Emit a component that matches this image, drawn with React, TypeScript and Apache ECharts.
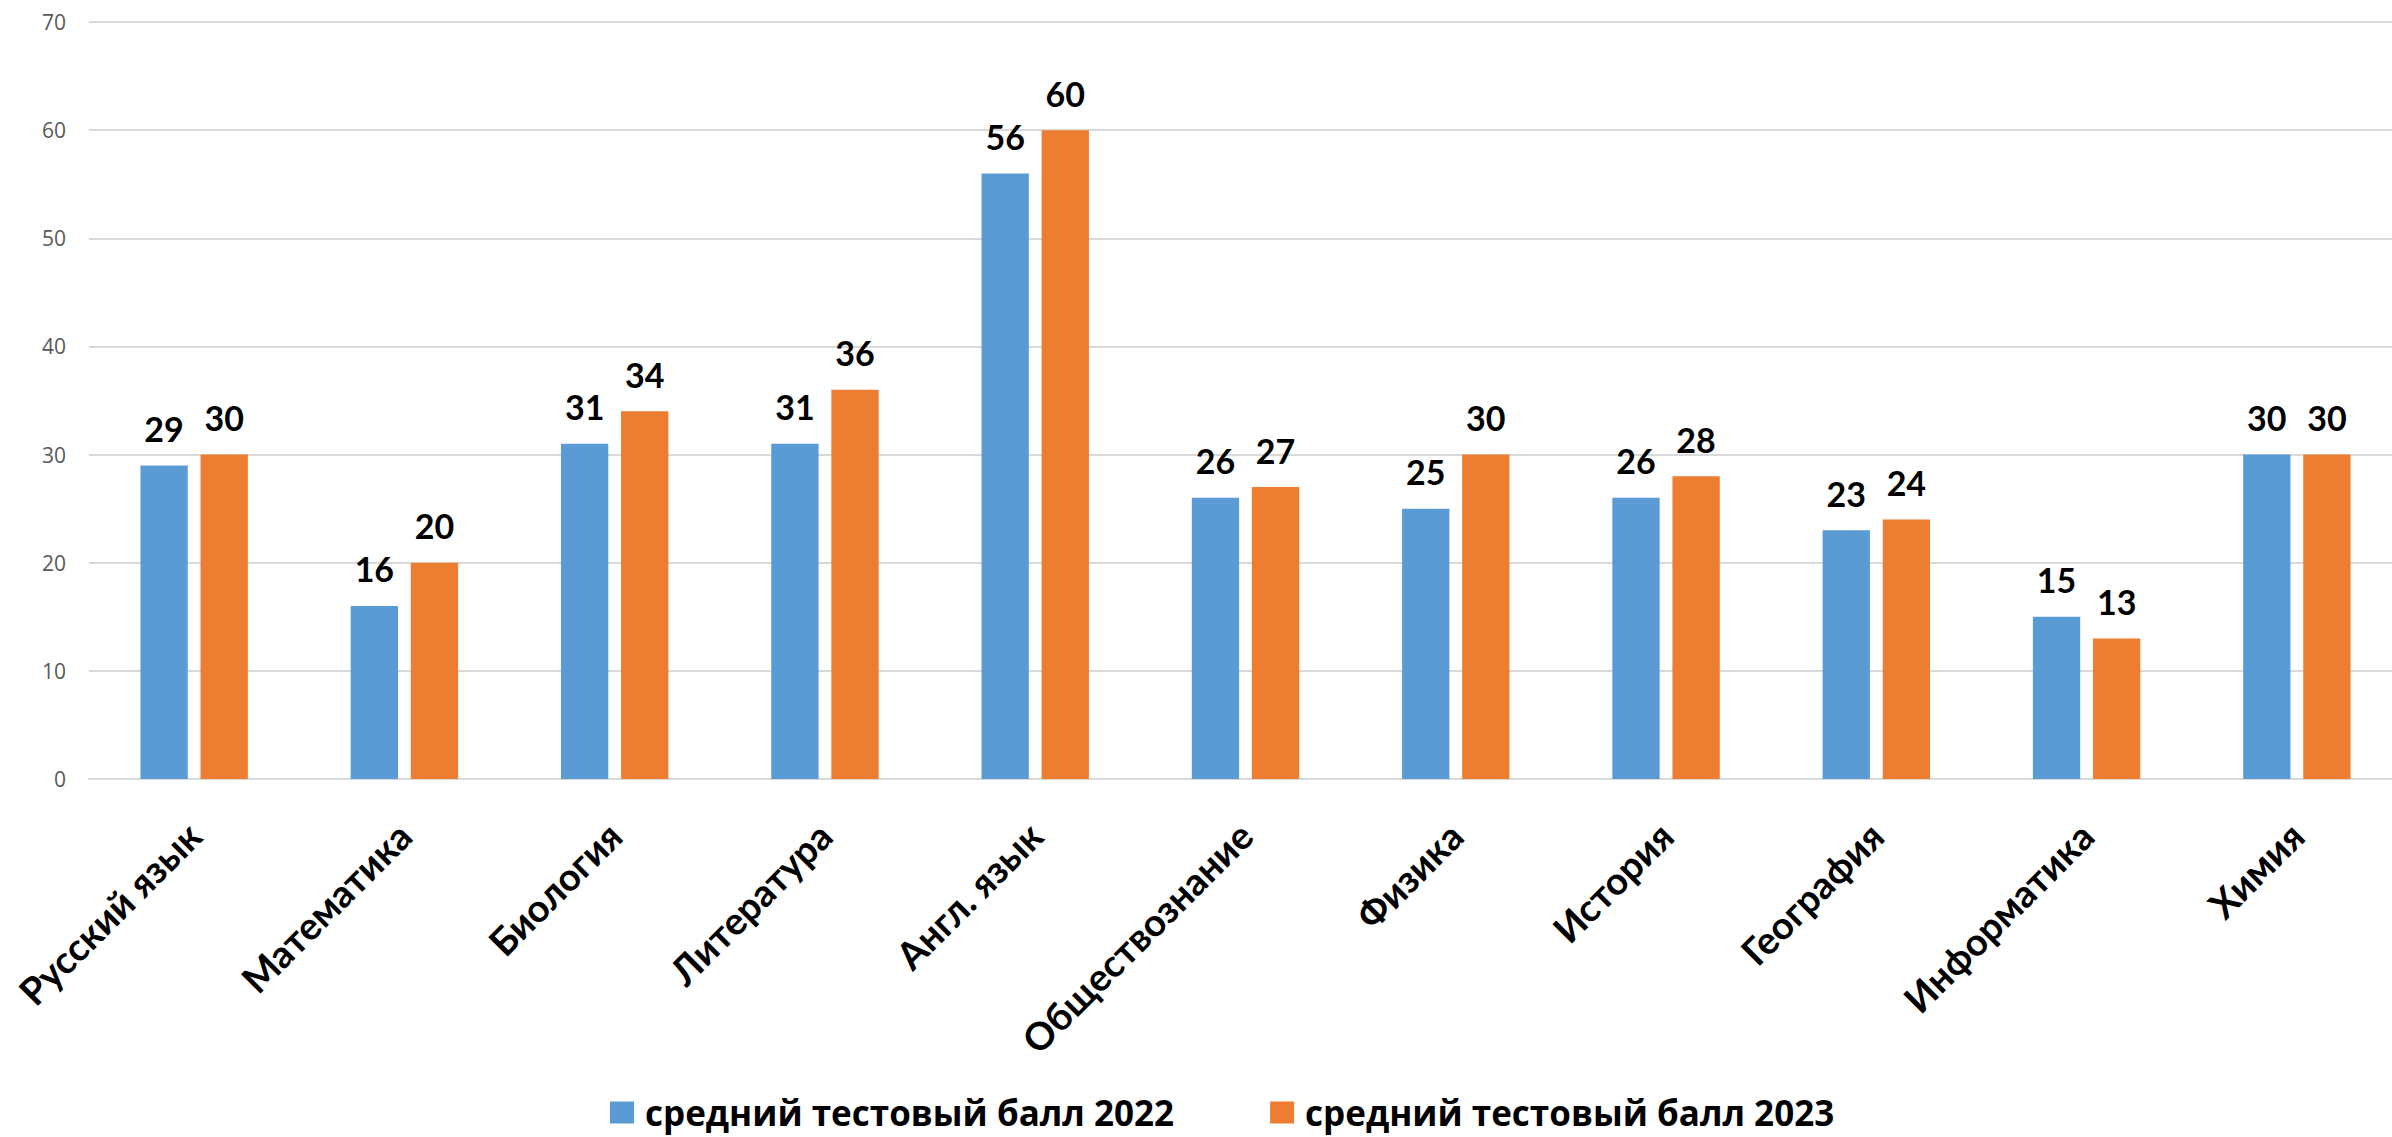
import React, { useEffect, useRef } from "react";
import * as echarts from "echarts";

const categories = [
  "Русский язык",
  "Математика",
  "Биология",
  "Литература",
  "Англ. язык",
  "Обществознание",
  "Физика",
  "История",
  "География",
  "Информатика",
  "Химия",
];
const scores2022 = [29, 16, 31, 31, 56, 26, 25, 26, 23, 15, 30];
const scores2023 = [30, 20, 34, 36, 60, 27, 30, 28, 24, 13, 30];
const seriesNames = ["средний тестовый балл 2022", "средний тестовый балл 2023"];
const yTicks = { min: 0, max: 70, interval: 10 };

const FONT = "Lato, 'Open Sans', sans-serif";

export default function App() {
  const ref = useRef<HTMLDivElement>(null);
  useEffect(() => {
    if (!ref.current) return;
    const chart = echarts.init(ref.current, undefined, { renderer: "svg" });
    const label = {
      show: true,
      position: "top",
      distance: 20,
      color: "#000",
      fontSize: 34,
      fontWeight: "bold",
      fontFamily: FONT,
    };
    chart.setOption({
      animation: false,
      backgroundColor: "#fff",
      grid: { left: 89, right: 0, top: 22, bottom: 1137 - 779, containLabel: false },
      legend: {
        left: 610,
        top: 1095,
        padding: 0,
        itemWidth: 24,
        itemHeight: 22,
        itemGap: 96,
        icon: "rect",
        textStyle: {
          fontSize: 35,
          fontWeight: "bold",
          fontFamily: "'Open Sans', sans-serif",
          color: "#000",
          padding: [0, 0, 0, 6],
        },
        data: seriesNames,
      },
      xAxis: {
        type: "category",
        data: categories,
        axisLine: { lineStyle: { color: "#d9d9d9", width: 2 } },
        axisTick: { show: false },
        axisLabel: {
          rotate: 45,
          margin: 50,
          interval: 0,
          color: "#000",
          fontSize: 38,
          fontWeight: "bold",
          fontFamily: FONT,
        },
      },
      yAxis: {
        type: "value",
        min: yTicks.min,
        max: yTicks.max,
        interval: yTicks.interval,
        axisLine: { show: false },
        axisTick: { show: false },
        splitLine: { lineStyle: { color: "#d9d9d9", width: 2 } },
        axisLabel: {
          margin: 23,
          color: "#595959",
          fontSize: 21,
          fontFamily: "'Open Sans', sans-serif",
        },
      },
      series: [
        {
          name: seriesNames[0],
          type: "bar",
          data: scores2022,
          barWidth: "22.5%",
          barGap: "27%",
          itemStyle: { color: "#5B9BD5" },
          label,
        },
        {
          name: seriesNames[1],
          type: "bar",
          data: scores2023,
          barWidth: "22.5%",
          itemStyle: { color: "#ED7D31" },
          label,
        },
      ],
    });
    return () => chart.dispose();
  }, []);
  return (
    <div
      ref={ref}
      style={{ position: "fixed", left: 0, top: 0, width: 2402, height: 1137 }}
    />
  );
}
